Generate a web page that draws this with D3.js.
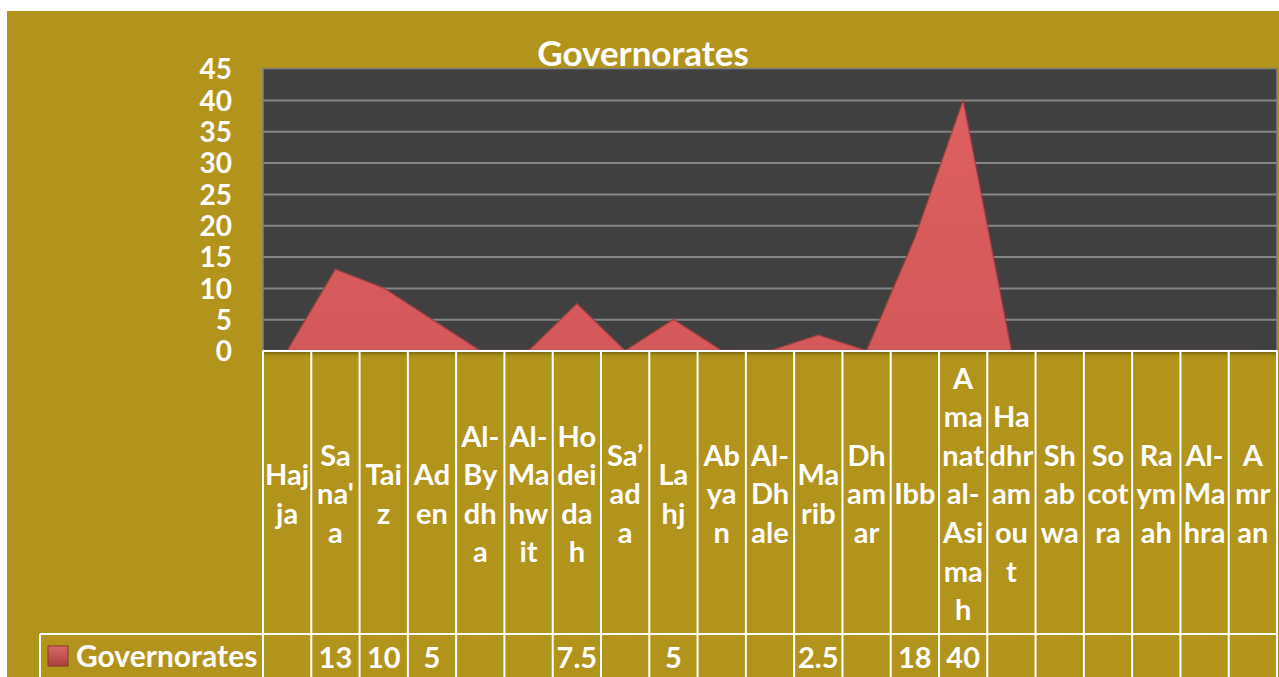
<!DOCTYPE html>
<html>
<head>
<meta charset="utf-8">
<script src="https://cdn.jsdelivr.net/npm/d3@7"></script>
<style>
  html, body { margin: 0; padding: 0; background: #fff; overflow: hidden; }
  svg { display: block; font-family: Lato, "Noto Sans", sans-serif; font-weight: bold; }
</style>
</head>
<body>
<svg id="chart"></svg>
<script>
const categories = ["Hajja", "Sana'a", "Taiz", "Aden", "Al-Bydha", "Al-Mahwit", "Hodeidah", "Sa’ada", "Lahj", "Abyan",
  "Al-Dhale", "Marib", "Dhamar", "Ibb", "Amanat al-Asimah", "Hadhramout", "Shabwa", "Socotra", "Raymah", "Al-Mahra", "Amran"];
// wrapped label text as it shows in the narrow table cells
const categoryLines = [["Haj", "ja"], ["Sa", "na'", "a"], ["Tai", "z"], ["Ad", "en"], ["Al-", "By", "dh", "a"],
  ["Al-", "Ma", "hw", "it"], ["Ho", "dei", "da", "h"], ["Sa’", "ad", "a"], ["La", "hj"], ["Ab", "ya", "n"],
  ["Al-", "Dh", "ale"], ["Ma", "rib"], ["Dh", "am", "ar"], ["Ibb"], ["A", "ma", "nat", "al-", "Asi", "ma", "h"],
  ["Ha", "dhr", "am", "ou", "t"], ["Sh", "ab", "wa"], ["So", "cot", "ra"], ["Ra", "ym", "ah"], ["Al-", "Ma", "hra"], ["A", "mr", "an"]];
const values = [null, 13, 10, 5, null, null, 7.5, null, 5, null, null, 2.5, null, 18, 40, null, null, null, null, null, null];
const yTicks = [0, 5, 10, 15, 20, 25, 30, 35, 40, 45];
const seriesName = "Governorates";
const title = "Governorates";

const W = 1279, H = 677;
const plot = { left: 263, right: 1277, top: 68.6, bottom: 350.6 };
const tableBottomRow = 634;

const svg = d3.select("#chart").attr("width", W).attr("height", H);

const defs = svg.append("defs");
const areaGrad = defs.append("linearGradient").attr("id", "areaGrad").attr("x1", 0).attr("y1", 0).attr("x2", 0).attr("y2", 1);
areaGrad.append("stop").attr("offset", "0%").attr("stop-color", "#DE5F60");
areaGrad.append("stop").attr("offset", "100%").attr("stop-color", "#D4595A");
const keyGrad = defs.append("linearGradient").attr("id", "keyGrad").attr("x1", 0).attr("y1", 0).attr("x2", 0).attr("y2", 1);
keyGrad.append("stop").attr("offset", "0%").attr("stop-color", "#D96A68");
keyGrad.append("stop").attr("offset", "100%").attr("stop-color", "#A8403D");
const shadeGrad = defs.append("linearGradient").attr("id", "shadeGrad").attr("x1", 0).attr("y1", 0).attr("x2", 0).attr("y2", 1);
shadeGrad.append("stop").attr("offset", "0%").attr("stop-color", "#6b5a10").attr("stop-opacity", 0.9);
shadeGrad.append("stop").attr("offset", "100%").attr("stop-color", "#b29419").attr("stop-opacity", 0);

// chart background
svg.append("rect").attr("x", 7).attr("y", 11).attr("width", W - 7).attr("height", H - 11).attr("fill", "#B2931B");

const x = d3.scaleBand().domain(categories).range([plot.left, plot.right]).padding(0);
const y = d3.scaleLinear().domain([0, 45]).range([plot.bottom, plot.top]);

// title (drawn first so the plot area overlaps its bottom like the original)
svg.append("text")
  .attr("x", 643).attr("y", 66)
  .attr("text-anchor", "middle")
  .attr("fill", "#fff")
  .attr("font-size", 35)
  .text(title);

// plot area
svg.append("rect")
  .attr("x", plot.left).attr("y", plot.top)
  .attr("width", plot.right - plot.left).attr("height", plot.bottom - plot.top)
  .attr("fill", "#404040").attr("stroke", "#7f7f7f").attr("stroke-width", 1.5);

// gridlines
svg.append("g")
  .attr("transform", `translate(${plot.left},0)`)
  .call(d3.axisLeft(y).tickValues(yTicks.filter(t => t > 0 && t < 45)).tickSize(-(plot.right - plot.left)).tickFormat(""))
  .call(g => g.select(".domain").remove())
  .call(g => g.selectAll("line").attr("stroke", "#858585").attr("stroke-width", 2));

// y axis labels
svg.append("g")
  .attr("transform", `translate(${plot.left},0)`)
  .call(d3.axisLeft(y).tickValues(yTicks).tickSize(0).tickPadding(31))
  .call(g => g.select(".domain").remove())
  .call(g => g.selectAll("text")
    .attr("fill", "#fff").attr("font-size", 28).attr("font-family", "Lato, sans-serif").attr("font-weight", "bold")
    .attr("dy", "0.36em"));

// area series
const area = d3.area()
  .x((d, i) => x(categories[i]) + x.bandwidth() / 2)
  .y0(y(0))
  .y1(d => y(d == null ? 0 : d));

svg.append("path")
  .datum(values)
  .attr("d", area)
  .attr("fill", "url(#areaGrad)")
  .attr("stroke", "#a23c3d")
  .attr("stroke-opacity", 0.75)
  .attr("stroke-width", 1.5)
  .attr("stroke-linejoin", "round");

// data table
const table = svg.append("g");
table.append("rect")
  .attr("x", plot.left).attr("y", plot.bottom + 1)
  .attr("width", plot.right - plot.left).attr("height", 7)
  .attr("fill", "url(#shadeGrad)");

const cols = table.selectAll("g.col")
  .data(categories)
  .join("g")
  .attr("class", "col")
  .attr("transform", d => `translate(${x(d)},0)`);

cols.append("text")
  .attr("text-anchor", "middle")
  .attr("fill", "#fff")
  .attr("font-size", 29)
  .each(function (d, i) {
    const lines = categoryLines[i];
    const lh = 38.6, mid = 494;
    const start = mid - (lines.length - 1) * lh / 2;
    d3.select(this).selectAll("tspan")
      .data(lines)
      .join("tspan")
      .attr("x", x.bandwidth() / 2)
      .attr("y", (l, j) => start + j * lh)
      .attr("dy", "0.36em")
      .text(l => l);
  });

cols.append("text")
  .attr("x", x.bandwidth() / 2)
  .attr("y", 668)
  .attr("text-anchor", "middle")
  .attr("fill", "#fff")
  .attr("font-size", 29)
  .text((d, i) => values[i] == null ? "" : values[i]);

// table grid lines
const gridColor = "#ffffff";
const colEdges = categories.map(c => x(c)).concat([plot.right]);
table.selectAll("line.v")
  .data(colEdges)
  .join("line")
  .attr("x1", d => d).attr("x2", d => d)
  .attr("y1", plot.bottom).attr("y2", H)
  .attr("stroke", gridColor).attr("stroke-width", 2);
table.append("line")
  .attr("x1", plot.left).attr("x2", plot.right)
  .attr("y1", plot.bottom + 0.5).attr("y2", plot.bottom + 0.5)
  .attr("stroke", gridColor).attr("stroke-width", 2);
table.append("line")
  .attr("x1", 40).attr("x2", plot.right)
  .attr("y1", tableBottomRow).attr("y2", tableBottomRow)
  .attr("stroke", gridColor).attr("stroke-width", 2);
table.append("line")
  .attr("x1", 40).attr("x2", 40)
  .attr("y1", tableBottomRow).attr("y2", H)
  .attr("stroke", gridColor).attr("stroke-width", 2);

// legend key in the table
table.append("rect")
  .attr("x", 48).attr("y", 646).attr("width", 20).attr("height", 20)
  .attr("fill", "url(#keyGrad)").attr("stroke", "#8a3331").attr("stroke-width", 1);
table.append("text")
  .attr("x", 76).attr("y", 667)
  .attr("fill", "#fff")
  .attr("font-size", 30)
  .text(seriesName);
</script>
</body>
</html>
